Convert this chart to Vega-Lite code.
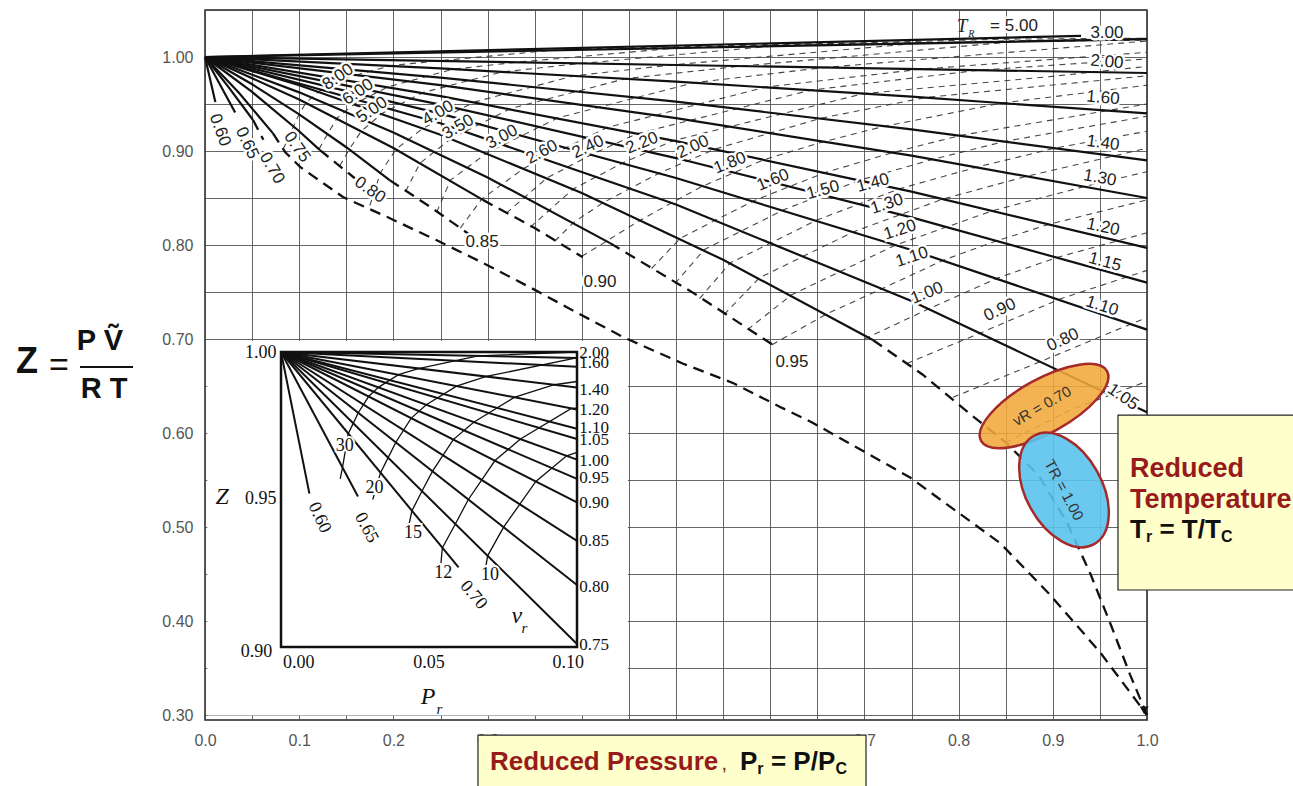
{
"$schema": "https://vega.github.io/schema/vega-lite/v6.json",
"width": 942, "height": 710,
"padding": {"left": 205, "top": 10, "right": 146, "bottom": 66},
"autosize": {"type": "none"},
"background": "white",
"config": {"view": {"stroke": "#222", "strokeWidth": 1.5}, "font": "Liberation Sans"},
"datasets": {
"solid": [
{"s":"5.00","x":0,"z":1},{"s":"5.00","x":0.93,"z":1.0225},
{"s":"3.00","x":0,"z":1},{"s":"3.00","x":1,"z":1.019},
{"s":"2.00","x":0,"z":1},{"s":"2.00","x":0.5,"z":0.9915},{"s":"2.00","x":1,"z":0.983},
{"s":"1.60","x":0,"z":1},{"s":"1.60","x":0.25,"z":0.9878},{"s":"1.60","x":0.5,"z":0.9738},{"s":"1.60","x":0.75,"z":0.9578},{"s":"1.60","x":1,"z":0.94},
{"s":"1.40","x":0,"z":1},{"s":"1.40","x":0.25,"z":0.9781},{"s":"1.40","x":0.5,"z":0.9525},{"s":"1.40","x":0.75,"z":0.9231},{"s":"1.40","x":1,"z":0.89},
{"s":"1.30","x":0,"z":1},{"s":"1.30","x":0.25,"z":0.970},{"s":"1.30","x":0.5,"z":0.935},{"s":"1.30","x":0.75,"z":0.895},{"s":"1.30","x":1,"z":0.85},
{"s":"1.20","x":0,"z":1},{"s":"1.20","x":0.25,"z":0.9583},{"s":"1.20","x":0.5,"z":0.9105},{"s":"1.20","x":0.75,"z":0.8568},{"s":"1.20","x":1,"z":0.797},
{"s":"1.15","x":0,"z":1},{"s":"1.15","x":0.25,"z":0.9494},{"s":"1.15","x":0.5,"z":0.8925},{"s":"1.15","x":0.75,"z":0.8294},{"s":"1.15","x":1,"z":0.76},
{"s":"1.10","x":0,"z":1},{"s":"1.10","x":0.25,"z":0.9397},{"s":"1.10","x":0.5,"z":0.8713},{"s":"1.10","x":0.75,"z":0.7947},{"s":"1.10","x":1,"z":0.71},
{"s":"1.05","x":0,"z":1},{"s":"1.05","x":0.25,"z":0.9295},{"s":"1.05","x":0.5,"z":0.843},{"s":"1.05","x":0.75,"z":0.7405},{"s":"1.05","x":1,"z":0.622},
{"s":"1.00","x":0,"z":1},{"s":"1.00","x":0.1,"z":0.970},{"s":"1.00","x":0.25,"z":0.9173},{"s":"1.00","x":0.4,"z":0.8554},{"s":"1.00","x":0.55,"z":0.7843},{"s":"1.00","x":0.709,"z":0.699},
{"s":"0.95","x":0,"z":1},{"s":"0.95","x":0.1,"z":0.9624},{"s":"0.95","x":0.2,"z":0.9197},{"s":"0.95","x":0.3,"z":0.8719},{"s":"0.95","x":0.43,"z":0.802},
{"s":"0.90","x":0,"z":1},{"s":"0.90","x":0.1,"z":0.9548},{"s":"0.90","x":0.2,"z":0.9032},{"s":"0.90","x":0.295,"z":0.848},
{"s":"0.85","x":0,"z":1},{"s":"0.85","x":0.05,"z":0.971},{"s":"0.85","x":0.1,"z":0.939},{"s":"0.85","x":0.15,"z":0.904},{"s":"0.85","x":0.196,"z":0.869},
{"s":"0.80","x":0,"z":1},{"s":"0.80","x":0.05,"z":0.9628},{"s":"0.80","x":0.1,"z":0.921},{"s":"0.80","x":0.122,"z":0.901},
{"s":"0.75","x":0,"z":1},{"s":"0.75","x":0.036,"z":0.962},{"s":"0.75","x":0.072,"z":0.919},
{"s":"0.70","x":0,"z":1},{"s":"0.70","x":0.025,"z":0.968},{"s":"0.70","x":0.051,"z":0.933},
{"s":"0.65","x":0,"z":1},{"s":"0.65","x":0.032,"z":0.941},
{"s":"0.60","x":0,"z":1},{"s":"0.60","x":0.011,"z":0.952}
],
"heavy": [
{"s":"o","x":0.072,"z":0.919},{"s":"o","x":0.085,"z":0.899},{"s":"o","x":0.101,"z":0.883},{"s":"o","x":0.1465,"z":0.851},{"s":"o","x":0.193,"z":0.830},{"s":"o","x":0.246,"z":0.805},{"s":"o","x":0.295,"z":0.781},{"s":"o","x":0.345,"z":0.755},{"s":"o","x":0.395,"z":0.728},{"s":"o","x":0.444,"z":0.702},{"s":"o","x":0.507,"z":0.674},{"s":"o","x":0.561,"z":0.653},{"s":"o","x":0.610,"z":0.628},{"s":"o","x":0.645,"z":0.611},{"s":"o","x":0.748,"z":0.553},{"s":"o","x":0.844,"z":0.483},{"s":"o","x":0.897,"z":0.428},{"s":"o","x":0.950,"z":0.367},{"s":"o","x":1.0,"z":0.30},
{"s":"i","x":0.709,"z":0.699},{"s":"i","x":0.762,"z":0.662},{"s":"i","x":0.81,"z":0.622},{"s":"i","x":0.85,"z":0.590},{"s":"i","x":0.885,"z":0.555},{"s":"i","x":0.915,"z":0.505},{"s":"i","x":0.94,"z":0.450},{"s":"i","x":0.962,"z":0.395},{"s":"i","x":0.982,"z":0.343},{"s":"i","x":1.0,"z":0.30},
{"s":"h95","x":0.43,"z":0.802},{"s":"h95","x":0.52,"z":0.748},{"s":"h95","x":0.607,"z":0.691},
{"s":"h90","x":0.295,"z":0.848},{"s":"h90","x":0.35,"z":0.818},{"s":"h90","x":0.401,"z":0.787},
{"s":"h85","x":0.196,"z":0.869},{"s":"h85","x":0.24,"z":0.840},{"s":"h85","x":0.281,"z":0.811},
{"s":"h80","x":0.122,"z":0.901},{"s":"h80","x":0.159,"z":0.871},
{"s":"h70","x":0.051,"z":0.933},{"s":"h70","x":0.062,"z":0.912}
],
"thin": [
{"s":"8","x":0.083,"z":0.902},{"s":"8","x":0.0998,"z":0.939},{"s":"8","x":0.107,"z":0.951},{"s":"8","x":0.1204,"z":0.963},{"s":"8","x":0.1466,"z":0.977},{"s":"8","x":0.1982,"z":0.991},{"s":"8","x":0.249,"z":0.996},{"s":"8","x":0.378,"z":1.008},{"s":"8","x":0.634,"z":1.014},{"s":"8","x":1,"z":1.018},
{"s":"6","x":0.121,"z":0.902},{"s":"6","x":0.1301,"z":0.918},{"s":"6","x":0.1402,"z":0.935},{"s":"6","x":0.1584,"z":0.950},{"s":"6","x":0.1937,"z":0.968},{"s":"6","x":0.2632,"z":0.987},{"s":"6","x":0.3315,"z":0.9945},{"s":"6","x":0.505,"z":1.010},{"s":"6","x":0.849,"z":1.019},{"s":"6","x":1,"z":1.020},
{"s":"5","x":0.143,"z":0.884},{"s":"5","x":0.1533,"z":0.902},{"s":"5","x":0.1658,"z":0.921},{"s":"5","x":0.188,"z":0.940},{"s":"5","x":0.2308,"z":0.962},{"s":"5","x":0.315,"z":0.984},{"s":"5","x":0.3973,"z":0.993},{"s":"5","x":0.607,"z":1.012},{"s":"5","x":1,"z":1.020},
{"s":"4","x":0.175,"z":0.842},{"s":"4","x":0.1863,"z":0.877},{"s":"4","x":0.2029,"z":0.902},{"s":"4","x":0.2311,"z":0.924},{"s":"4","x":0.2856,"z":0.952},{"s":"4","x":0.392,"z":0.980},{"s":"4","x":0.4958,"z":0.9916},{"s":"4","x":0.761,"z":1.015},{"s":"4","x":1,"z":1.019},
{"s":"3.5","x":0.213,"z":0.857},{"s":"3.5","x":0.2282,"z":0.887},{"s":"3.5","x":0.2609,"z":0.913},{"s":"3.5","x":0.324,"z":0.945},{"s":"3.5","x":0.4466,"z":0.977},{"s":"3.5","x":0.566,"z":0.990},{"s":"3.5","x":0.872,"z":1.0175},{"s":"3.5","x":1,"z":1.019},
{"s":"3","x":0.246,"z":0.835},{"s":"3","x":0.2606,"z":0.869},{"s":"3","x":0.2993,"z":0.898},{"s":"3","x":0.3741,"z":0.935},{"s":"3","x":0.5187,"z":0.9726},{"s":"3","x":0.659,"z":0.989},{"s":"3","x":1,"z":1.017},
{"s":"2.6","x":0.271,"z":0.818},{"s":"2.6","x":0.2939,"z":0.849},{"s":"2.6","x":0.3391,"z":0.882},{"s":"2.6","x":0.4269,"z":0.925},{"s":"2.6","x":0.5956,"z":0.968},{"s":"2.6","x":0.7593,"z":0.987},{"s":"2.6","x":1,"z":1.005},
{"s":"2.4","x":0.320,"z":0.834},{"s":"2.4","x":0.3631,"z":0.8714},{"s":"2.4","x":0.4109,"z":0.8965},{"s":"2.4","x":0.4593,"z":0.9186},{"s":"2.4","x":0.6432,"z":0.9648},{"s":"2.4","x":0.8217,"z":0.986},{"s":"2.4","x":1,"z":0.998},
{"s":"2.2","x":0.3454,"z":0.819},{"s":"2.2","x":0.3907,"z":0.8595},{"s":"2.2","x":0.4437,"z":0.8874},{"s":"2.2","x":0.497,"z":0.911},{"s":"2.2","x":0.699,"z":0.961},{"s":"2.2","x":0.8953,"z":0.979},{"s":"2.2","x":1,"z":0.990},
{"s":"2.0","x":0.3713,"z":0.804},{"s":"2.0","x":0.3913,"z":0.824},{"s":"2.0","x":0.4226,"z":0.845},{"s":"2.0","x":0.482,"z":0.8764},{"s":"2.0","x":0.5413,"z":0.902},{"s":"2.0","x":0.6544,"z":0.935},{"s":"2.0","x":0.7654,"z":0.957},{"s":"2.0","x":1,"z":0.980},
{"s":"1.8","x":0.400,"z":0.788},{"s":"1.8","x":0.423,"z":0.802},{"s":"1.8","x":0.458,"z":0.824},{"s":"1.8","x":0.492,"z":0.843},{"s":"1.8","x":0.527,"z":0.862},{"s":"1.8","x":0.594,"z":0.891},{"s":"1.8","x":0.657,"z":0.910},{"s":"1.8","x":0.720,"z":0.926},{"s":"1.8","x":0.8455,"z":0.951},{"s":"1.8","x":1,"z":0.970},
{"s":"1.6","x":0.474,"z":0.775},{"s":"1.6","x":0.5044,"z":0.807},{"s":"1.6","x":0.5426,"z":0.8268},{"s":"1.6","x":0.5823,"z":0.847},{"s":"1.6","x":0.658,"z":0.877},{"s":"1.6","x":0.7299,"z":0.8983},{"s":"1.6","x":0.802,"z":0.9166},{"s":"1.6","x":1,"z":0.950},
{"s":"1.5","x":0.499,"z":0.759},{"s":"1.5","x":0.5298,"z":0.795},{"s":"1.5","x":0.5709,"z":0.8156},{"s":"1.5","x":0.6141,"z":0.8374},{"s":"1.5","x":0.6952,"z":0.869},{"s":"1.5","x":0.7723,"z":0.891},{"s":"1.5","x":0.8497,"z":0.9104},{"s":"1.5","x":1,"z":0.937},
{"s":"1.4","x":0.525,"z":0.743},{"s":"1.4","x":0.5576,"z":0.781},{"s":"1.4","x":0.6023,"z":0.803},{"s":"1.4","x":0.6494,"z":0.8265},{"s":"1.4","x":0.7369,"z":0.8597},{"s":"1.4","x":0.8199,"z":0.883},{"s":"1.4","x":0.9033,"z":0.9033},{"s":"1.4","x":1,"z":0.921},
{"s":"1.3","x":0.551,"z":0.726},{"s":"1.3","x":0.5884,"z":0.765},{"s":"1.3","x":0.6372,"z":0.789},{"s":"1.3","x":0.6889,"z":0.8142},{"s":"1.3","x":0.7837,"z":0.849},{"s":"1.3","x":0.8734,"z":0.8734},{"s":"1.3","x":1,"z":0.903},
{"s":"1.2","x":0.576,"z":0.710},{"s":"1.2","x":0.6227,"z":0.747},{"s":"1.2","x":0.6761,"z":0.7727},{"s":"1.2","x":0.7334,"z":0.800},{"s":"1.2","x":0.8367,"z":0.8367},{"s":"1.2","x":0.9343,"z":0.8624},{"s":"1.2","x":1,"z":0.878},
{"s":"1.1","x":0.602,"z":0.694},{"s":"1.1","x":0.6607,"z":0.727},{"s":"1.1","x":0.7198,"z":0.754},{"s":"1.1","x":0.7838,"z":0.7838},{"s":"1.1","x":0.8414,"z":0.8048},{"s":"1.1","x":0.8971,"z":0.8223},{"s":"1.1","x":1,"z":0.848},
{"s":"1.0","x":0.700,"z":0.700},{"s":"1.0","x":0.7691,"z":0.7325},{"s":"1.0","x":0.8413,"z":0.7648},{"s":"1.0","x":0.9052,"z":0.787},{"s":"1.0","x":1,"z":0.813},
{"s":"0.9","x":0.745,"z":0.674},{"s":"0.9","x":0.8252,"z":0.7073},{"s":"0.9","x":0.9075,"z":0.7425},{"s":"0.9","x":1,"z":0.773},
{"s":"0.8","x":0.794,"z":0.638},{"s":"0.8","x":0.8894,"z":0.677},{"s":"0.8","x":1,"z":0.723},
{"s":"0.7","x":0.85,"z":0.590},{"s":"0.7","x":0.92,"z":0.625},{"s":"0.7","x":1,"z":0.655}
],
"lab": [
{"t":"8.00","x":0.1412,"z":0.9787,"a":-35},{"t":"6.00","x":0.1624,"z":0.9628,"a":-35},{"t":"5.00","x":0.1773,"z":0.9436,"a":-35},
{"t":"4.00","x":0.2473,"z":0.9404,"a":-30},{"t":"3.50","x":0.2686,"z":0.9255,"a":-30},{"t":"3.00","x":0.3153,"z":0.9149,"a":-28},
{"t":"2.60","x":0.3577,"z":0.8989,"a":-28},{"t":"2.40","x":0.4066,"z":0.9043,"a":-25},{"t":"2.20","x":0.4639,"z":0.9085,"a":-22},
{"t":"2.00","x":0.5180,"z":0.9043,"a":-25},{"t":"1.80","x":0.5573,"z":0.8872,"a":-22},{"t":"1.60","x":0.6030,"z":0.8691,"a":-22},
{"t":"1.50","x":0.6561,"z":0.8585,"a":-15},{"t":"1.40","x":0.7091,"z":0.8660,"a":-15},{"t":"1.30","x":0.7240,"z":0.8436,"a":-18},
{"t":"1.20","x":0.7378,"z":0.8160,"a":-18},{"t":"1.10","x":0.7505,"z":0.7872,"a":-18},{"t":"1.00","x":0.7665,"z":0.7489,"a":-22},
{"t":"0.90","x":0.8439,"z":0.7309,"a":-25},{"t":"0.80","x":0.9108,"z":0.6989,"a":-25},
{"t":"3.00","x":0.9575,"z":1.0255,"a":0},{"t":"2.00","x":0.9575,"z":0.9947,"a":5},{"t":"1.60","x":0.9533,"z":0.9564,"a":5},
{"t":"1.40","x":0.9533,"z":0.9085,"a":8},{"t":"1.30","x":0.9501,"z":0.8713,"a":10},{"t":"1.20","x":0.9533,"z":0.8191,"a":12},
{"t":"1.15","x":0.9554,"z":0.7819,"a":15},{"t":"1.10","x":0.9522,"z":0.7351,"a":18},{"t":"1.05","x":0.9745,"z":0.6383,"a":35},
{"t":"0.60","x":0.0159,"z":0.9223,"a":70},{"t":"0.65","x":0.0446,"z":0.9085,"a":65},{"t":"0.70","x":0.0711,"z":0.8819,"a":60},
{"t":"0.75","x":0.0977,"z":0.9043,"a":55},{"t":"0.80","x":0.1752,"z":0.8585,"a":35},{"t":"0.85","x":0.2941,"z":0.8032,"a":0},
{"t":"0.90","x":0.4193,"z":0.7606,"a":0},{"t":"0.95","x":0.6231,"z":0.6755,"a":0},{"t":"= 5.00","x":0.8588,"z":1.033,"a":0}
],
"igv": [{"x":0},{"x":0.005},{"x":0.01},{"x":0.015},{"x":0.02},{"x":0.025},{"x":0.03},{"x":0.035},{"x":0.04},{"x":0.045},{"x":0.05},{"x":0.055},{"x":0.06},{"x":0.065},{"x":0.07},{"x":0.075},{"x":0.08},{"x":0.085},{"x":0.09},{"x":0.095},{"x":0.1}],
"igh": [{"z":0.9},{"z":0.905},{"z":0.91},{"z":0.915},{"z":0.92},{"z":0.925},{"z":0.93},{"z":0.935},{"z":0.94},{"z":0.945},{"z":0.95},{"z":0.955},{"z":0.96},{"z":0.965},{"z":0.97},{"z":0.975},{"z":0.98},{"z":0.985},{"z":0.99},{"z":0.995},{"z":1.0}],
"iline": [
{"s":"2.00","x":0,"z":1},{"s":"2.00","x":0.1,"z":0.998},
{"s":"1.60","x":0,"z":1},{"s":"1.60","x":0.1,"z":0.995},
{"s":"1.40","x":0,"z":1},{"s":"1.40","x":0.1,"z":0.988},
{"s":"1.20","x":0,"z":1},{"s":"1.20","x":0.1,"z":0.9805},
{"s":"1.10","x":0,"z":1},{"s":"1.10","x":0.1,"z":0.974},
{"s":"1.05","x":0,"z":1},{"s":"1.05","x":0.1,"z":0.9705},
{"s":"1.00","x":0,"z":1},{"s":"1.00","x":0.1,"z":0.9635},
{"s":"0.95","x":0,"z":1},{"s":"0.95","x":0.1,"z":0.957},
{"s":"0.90","x":0,"z":1},{"s":"0.90","x":0.1,"z":0.949},
{"s":"0.85","x":0,"z":1},{"s":"0.85","x":0.1,"z":0.936},
{"s":"0.80","x":0,"z":1},{"s":"0.80","x":0.1,"z":0.921},
{"s":"0.75","x":0,"z":1},{"s":"0.75","x":0.1,"z":0.901},
{"s":"0.70","x":0,"z":1},{"s":"0.70","x":0.060,"z":0.927},
{"s":"0.65","x":0,"z":1},{"s":"0.65","x":0.026,"z":0.951},
{"s":"0.60","x":0,"z":1},{"s":"0.60","x":0.0096,"z":0.952}
],
"ithin": [
{"s":"30","x":0.0200,"z":0.957},{"s":"30","x":0.0208,"z":0.961},{"s":"30","x":0.0227,"z":0.9723},{"s":"30","x":0.0244,"z":0.9758},{"s":"30","x":0.0261,"z":0.9794},{"s":"30","x":0.0296,"z":0.9849},{"s":"30","x":0.0329,"z":0.988},{"s":"30","x":0.0397,"z":0.9923},{"s":"30","x":0.0464,"z":0.9944},{"s":"30","x":0.0666,"z":0.9987},{"s":"30","x":0.1,"z":1.0},
{"s":"20","x":0.031,"z":0.950},{"s":"20","x":0.0336,"z":0.959},{"s":"20","x":0.0362,"z":0.9642},{"s":"20","x":0.0388,"z":0.9694},{"s":"20","x":0.044,"z":0.9776},{"s":"20","x":0.0491,"z":0.9821},{"s":"20","x":0.0593,"z":0.9884},{"s":"20","x":0.0694,"z":0.9917},{"s":"20","x":0.0998,"z":0.998},
{"s":"15","x":0.0425,"z":0.938},{"s":"15","x":0.0442,"z":0.9461},{"s":"15","x":0.0476,"z":0.9528},{"s":"15","x":0.0512,"z":0.9596},{"s":"15","x":0.0582,"z":0.9703},{"s":"15","x":0.0651,"z":0.9762},{"s":"15","x":0.0788,"z":0.9846},{"s":"15","x":0.0923,"z":0.9889},{"s":"15","x":0.1,"z":0.990},
{"s":"12","x":0.054,"z":0.928},{"s":"12","x":0.0545,"z":0.9336},{"s":"12","x":0.0589,"z":0.9417},{"s":"12","x":0.0633,"z":0.95},{"s":"12","x":0.0723,"z":0.9632},{"s":"12","x":0.0809,"z":0.9705},{"s":"12","x":0.0981,"z":0.9809},{"s":"12","x":0.1,"z":0.981},
{"s":"10","x":0.069,"z":0.926},{"s":"10","x":0.0698,"z":0.9309},{"s":"10","x":0.0752,"z":0.9406},{"s":"10","x":0.0861,"z":0.9561},{"s":"10","x":0.0965,"z":0.9648},{"s":"10","x":0.1,"z":0.966}
],
"ilabR": [
{"t":"2.00","x":0.1008,"z":0.9997},{"t":"1.60","x":0.1008,"z":0.9962},{"t":"1.40","x":0.1008,"z":0.987},{"t":"1.20","x":0.1008,"z":0.9802},
{"t":"1.10","x":0.1008,"z":0.9742},{"t":"1.05","x":0.1008,"z":0.9703},{"t":"1.00","x":0.1008,"z":0.9631},{"t":"0.95","x":0.1008,"z":0.9574},
{"t":"0.90","x":0.1008,"z":0.9489},{"t":"0.85","x":0.1008,"z":0.9358},{"t":"0.80","x":0.1008,"z":0.9205},{"t":"0.75","x":0.1008,"z":0.9006}
],
"ilabL": [{"t":"1.00","x":-0.0015,"z":0.9995},{"t":"0.95","x":-0.0015,"z":0.95},{"t":"0.90","x":-0.003,"z":0.8983}],
"ilabC": [
{"t":"0.00","x":0.006,"z":0.8946,"a":0},{"t":"0.05","x":0.05,"z":0.8946,"a":0},{"t":"0.10","x":0.097,"z":0.8946,"a":0},
{"t":"0.60","x":0.013,"z":0.9438,"a":65},{"t":"0.65","x":0.0288,"z":0.9404,"a":62},{"t":"0.70","x":0.065,"z":0.9176,"a":50},
{"t":"30","x":0.0215,"z":0.9683,"a":0},{"t":"20","x":0.0316,"z":0.954,"a":0},{"t":"15","x":0.0446,"z":0.9387,"a":0},
{"t":"12","x":0.0548,"z":0.925,"a":0},{"t":"10","x":0.0706,"z":0.9245,"a":0}
]
},
"layer": [
{
"encoding": {
"x": {"field": "x", "type": "quantitative", "scale": {"domain": [0, 1], "nice": false, "zero": false},
 "axis": {"values": [0,0.05,0.1,0.15,0.2,0.25,0.3,0.35,0.4,0.45,0.5,0.55,0.6,0.65,0.7,0.75,0.8,0.85,0.9,0.95,1],
 "labelExpr": "(abs(datum.value*10-round(datum.value*10))<0.001 && (datum.value<0.35 || datum.value>0.65)) ? format(datum.value,'.1f') : ''",
 "title": null, "grid": true, "gridColor": "#4a4a4a", "gridWidth": 1, "gridOpacity": 0.85, "domain": false, "ticks": false,
 "labelFont": "Liberation Sans", "labelFontSize": 16, "labelColor": "#555", "labelPadding": 12, "labelFlush": false, "labelOverlap": false}},
"y": {"field": "z", "type": "quantitative", "scale": {"domain": [0.2947, 1.05], "nice": false, "zero": false},
 "axis": {"values": [0.3,0.35,0.4,0.45,0.5,0.55,0.6,0.65,0.7,0.75,0.8,0.85,0.9,0.95,1.0,1.05],
 "labelExpr": "abs(datum.value*10-round(datum.value*10))<0.001 ? format(datum.value,'.2f') : ''",
 "title": null, "grid": true, "gridColor": "#4a4a4a", "gridWidth": 1, "gridOpacity": 0.85, "domain": false, "ticks": false,
 "labelFont": "Liberation Sans", "labelFontSize": 16, "labelColor": "#555", "labelPadding": 12, "labelFlush": false, "labelOverlap": false}}
},
"layer": [
{"data": {"name": "thin"}, "mark": {"type": "line", "stroke": "#333", "strokeWidth": 1.1, "strokeDash": [6, 5], "opacity": 0.9}, "encoding": {"detail": {"field": "s", "type": "nominal"}}},
{"data": {"name": "solid"}, "mark": {"type": "line", "stroke": "#111", "strokeWidth": 2.2}, "encoding": {"detail": {"field": "s", "type": "nominal"}}},
{"data": {"name": "heavy"}, "mark": {"type": "line", "stroke": "#111", "strokeWidth": 2.3, "strokeDash": [11, 7]}, "encoding": {"detail": {"field": "s", "type": "nominal"}}},
{"data": {"values": [{"x": 0.997, "z": 0.305}]}, "mark": {"type": "point", "shape": "triangle-down", "size": 80, "filled": true, "color": "#111", "opacity": 1}},
{"data": {"name": "lab"}, "mark": {"type": "text", "font": "Liberation Sans", "fontSize": 17, "fill": "white", "stroke": "white", "strokeWidth": 5, "align": "center", "baseline": "middle"},
 "encoding": {"text": {"field": "t"}, "angle": {"field": "a", "type": "quantitative", "scale": null}}},
{"data": {"name": "lab"}, "mark": {"type": "text", "font": "Liberation Sans", "fontSize": 17, "fill": "#222", "align": "center", "baseline": "middle"},
 "encoding": {"text": {"field": "t"}, "angle": {"field": "a", "type": "quantitative", "scale": null}}},
{"data": {"values": [{"t": "T", "x": 0.8036, "z": 1.0325}]}, "mark": {"type": "text", "font": "Liberation Serif", "fontStyle": "italic", "fontSize": 19, "fill": "#222", "align": "center", "baseline": "middle"}, "encoding": {"text": {"field": "t"}}},
{"data": {"values": [{"t": "R", "x": 0.8135, "z": 1.0245}]}, "mark": {"type": "text", "font": "Liberation Serif", "fontStyle": "italic", "fontSize": 10, "fill": "#222", "align": "center", "baseline": "middle"}, "encoding": {"text": {"field": "t"}}}
]
},
{
"encoding": {
"x": {"field": "x", "type": "quantitative", "scale": {"domain": [-0.02568, 0.29257], "nice": false, "zero": false}, "axis": null},
"y": {"field": "z", "type": "quantitative", "scale": {"domain": [0.87525, 1.11593], "nice": false, "zero": false}, "axis": null}
},
"layer": [
{"data": {"values": [{"x": -0.0249, "x2": 0.1172, "z": 1.0037, "z2": 0.8768}]}, "mark": {"type": "rect", "fill": "white"}, "encoding": {"x2": {"field": "x2"}, "y2": {"field": "z2"}}},
{"data": {"name": "igv"}, "mark": {"type": "rule", "stroke": "#111", "strokeWidth": 1.1}, "encoding": {"y": {"datum": 0.9}, "y2": {"datum": 1.0}}},
{"data": {"name": "igh"}, "mark": {"type": "rule", "stroke": "#111", "strokeWidth": 1.1}, "encoding": {"x": {"datum": 0}, "x2": {"datum": 0.1}}},
{"data": {"values": [{"x": 0, "x2": 0.1, "z": 0.9, "z2": 1.0}]}, "mark": {"type": "rect", "fill": null, "fillOpacity": 0, "stroke": "#111", "strokeWidth": 2.5}, "encoding": {"x2": {"field": "x2"}, "y2": {"field": "z2"}}},
{"data": {"name": "ithin"}, "mark": {"type": "line", "stroke": "#111", "strokeWidth": 1.3}, "encoding": {"detail": {"field": "s", "type": "nominal"}}},
{"data": {"name": "iline"}, "mark": {"type": "line", "stroke": "#111", "strokeWidth": 2}, "encoding": {"detail": {"field": "s", "type": "nominal"}}},
{"data": {"name": "ilabR"}, "mark": {"type": "text", "font": "Liberation Serif", "fontSize": 17, "fill": "#111", "align": "left", "baseline": "middle"}, "encoding": {"text": {"field": "t"}}},
{"data": {"name": "ilabL"}, "mark": {"type": "text", "font": "Liberation Serif", "fontSize": 18, "fill": "#111", "align": "right", "baseline": "middle"}, "encoding": {"text": {"field": "t"}}},
{"data": {"name": "ilabC"}, "mark": {"type": "text", "font": "Liberation Serif", "fontSize": 18, "fill": "white", "stroke": "white", "strokeWidth": 4, "align": "center", "baseline": "middle"},
 "encoding": {"text": {"field": "t"}, "angle": {"field": "a", "type": "quantitative", "scale": null}}},
{"data": {"name": "ilabC"}, "mark": {"type": "text", "font": "Liberation Serif", "fontSize": 18, "fill": "#111", "align": "center", "baseline": "middle"},
 "encoding": {"text": {"field": "t"}, "angle": {"field": "a", "type": "quantitative", "scale": null}}},
{"data": {"values": [{"t": "Z", "x": -0.0199, "z": 0.9508}, {"t": "P", "x": 0.0497, "z": 0.883}, {"t": "v", "x": 0.0797, "z": 0.9105}]}, "mark": {"type": "text", "font": "Liberation Serif", "fontStyle": "italic", "fontSize": 24, "fill": "#111", "align": "center", "baseline": "middle"}, "encoding": {"text": {"field": "t"}}},
{"data": {"values": [{"t": "r", "x": 0.0535, "z": 0.8790}, {"t": "r", "x": 0.0822, "z": 0.9065}]}, "mark": {"type": "text", "font": "Liberation Serif", "fontStyle": "italic", "fontSize": 15, "fill": "#111", "align": "center", "baseline": "middle"}, "encoding": {"text": {"field": "t"}}}
]
},
{
"encoding": {
"x": {"field": "x", "type": "quantitative", "scale": {"domain": [0, 1], "nice": false, "zero": false}, "axis": null},
"y": {"field": "z", "type": "quantitative", "scale": {"domain": [0.2947, 1.05], "nice": false, "zero": false}, "axis": null}
},
"layer": [
{"data": {"values": [{"x": 0.8907, "z": 0.6287}]}, "mark": {"type": "point", "shape": "M -1 0 A 1 0.375 0 1 1 1 0 A 1 0.375 0 1 1 -1 0 Z", "size": 20736, "angle": 331, "filled": true, "fill": "#F2A93B", "fillOpacity": 0.88, "stroke": "#A52A2A", "strokeWidth": 2.5, "strokeOpacity": 1, "opacity": 1}},
{"data": {"values": [{"x": 0.9119, "z": 0.5394}]}, "mark": {"type": "point", "shape": "M -1 0 A 1 0.613 0 1 1 1 0 A 1 0.613 0 1 1 -1 0 Z", "size": 15376, "angle": 61, "filled": true, "fill": "#5BC3EE", "fillOpacity": 0.9, "stroke": "#A52A2A", "strokeWidth": 2.5, "strokeOpacity": 1, "opacity": 1}},
{"data": {"values": [{"t": "vR = 0.70", "x": 0.8885, "z": 0.6287, "a": -30}, {"t": "TR = 1.00", "x": 0.9119, "z": 0.5394, "a": 62}]}, "mark": {"type": "text", "font": "Liberation Sans", "fontSize": 15, "fill": "#333", "align": "center", "baseline": "middle"},
 "encoding": {"text": {"field": "t"}, "angle": {"field": "a", "type": "quantitative", "scale": null}}},
{"data": {"values": [{"x": 0.2898, "x2": 0.7017, "z": 0.2787, "z2": 0.2}, {"x": 0.9692, "x2": 1.2, "z": 0.6191, "z2": 0.433}]}, "mark": {"type": "rect", "fill": "#FFFFCC", "stroke": "#222", "strokeWidth": 1.2}, "encoding": {"x2": {"field": "x2"}, "y2": {"field": "z2"}}},
{"data": {"values": [{"t": "Reduced Pressure", "x": 0.3025, "z": 0.2505}]}, "mark": {"type": "text", "font": "Liberation Sans", "fontWeight": "bold", "fontSize": 26, "fill": "#981B1B", "align": "left", "baseline": "middle"}, "encoding": {"text": {"field": "t"}}},
{"data": {"values": [{"t": "Reduced", "x": 0.982, "z": 0.5617}, {"t": "Temperature", "x": 0.982, "z": 0.5287}]}, "mark": {"type": "text", "font": "Liberation Sans", "fontWeight": "bold", "fontSize": 27, "fill": "#981B1B", "align": "left", "baseline": "middle"}, "encoding": {"text": {"field": "t"}}},
{"data": {"values": [{"t": ",", "x": 0.5483, "z": 0.2475}]}, "mark": {"type": "text", "font": "Liberation Sans", "fontSize": 20, "fill": "#6a2a2a", "align": "left", "baseline": "middle"}, "encoding": {"text": {"field": "t"}}},
{"data": {"values": [{"t": "P", "x": 0.5679, "z": 0.2505}, {"t": "= P/P", "x": 0.6008, "z": 0.2505}, {"t": "T", "x": 0.982, "z": 0.4968}, {"t": "= T/T", "x": 1.0132, "z": 0.4968}]}, "mark": {"type": "text", "font": "Liberation Sans", "fontWeight": "bold", "fontSize": 26, "fill": "#111", "align": "left", "baseline": "middle"}, "encoding": {"text": {"field": "t"}}},
{"data": {"values": [{"t": "r", "x": 0.5863, "z": 0.2431}, {"t": "C", "x": 0.6693, "z": 0.2431}, {"t": "r", "x": 0.9989, "z": 0.4894}, {"t": "C", "x": 1.0786, "z": 0.4894}]}, "mark": {"type": "text", "font": "Liberation Sans", "fontWeight": "bold", "fontSize": 16, "fill": "#111", "align": "left", "baseline": "middle"}, "encoding": {"text": {"field": "t"}}},
{"data": {"values": [{"t": "Z", "x": -0.189, "z": 0.6755}]}, "mark": {"type": "text", "font": "Liberation Sans", "fontWeight": "bold", "fontSize": 36, "fill": "#111", "align": "center", "baseline": "middle"}, "encoding": {"text": {"field": "t"}}},
{"data": {"values": [{"t": "=", "x": -0.155, "z": 0.6712}]}, "mark": {"type": "text", "font": "Liberation Sans", "fontSize": 34, "fill": "#111", "align": "center", "baseline": "middle"}, "encoding": {"text": {"field": "t"}}},
{"data": {"values": [{"t": "P Ṽ", "x": -0.1115, "z": 0.6979}, {"t": "R T", "x": -0.1072, "z": 0.6468}]}, "mark": {"type": "text", "font": "Liberation Sans, DejaVu Sans, sans-serif", "fontWeight": "bold", "fontSize": 29, "fill": "#111", "align": "center", "baseline": "middle"}, "encoding": {"text": {"field": "t"}}},
{"data": {"values": [{"x": -0.1327, "x2": -0.0764, "z": 0.6702}]}, "mark": {"type": "rule", "stroke": "#111", "strokeWidth": 2}, "encoding": {"x2": {"field": "x2"}}}
]
}
],
"resolve": {"scale": {"x": "independent", "y": "independent"}}
}
